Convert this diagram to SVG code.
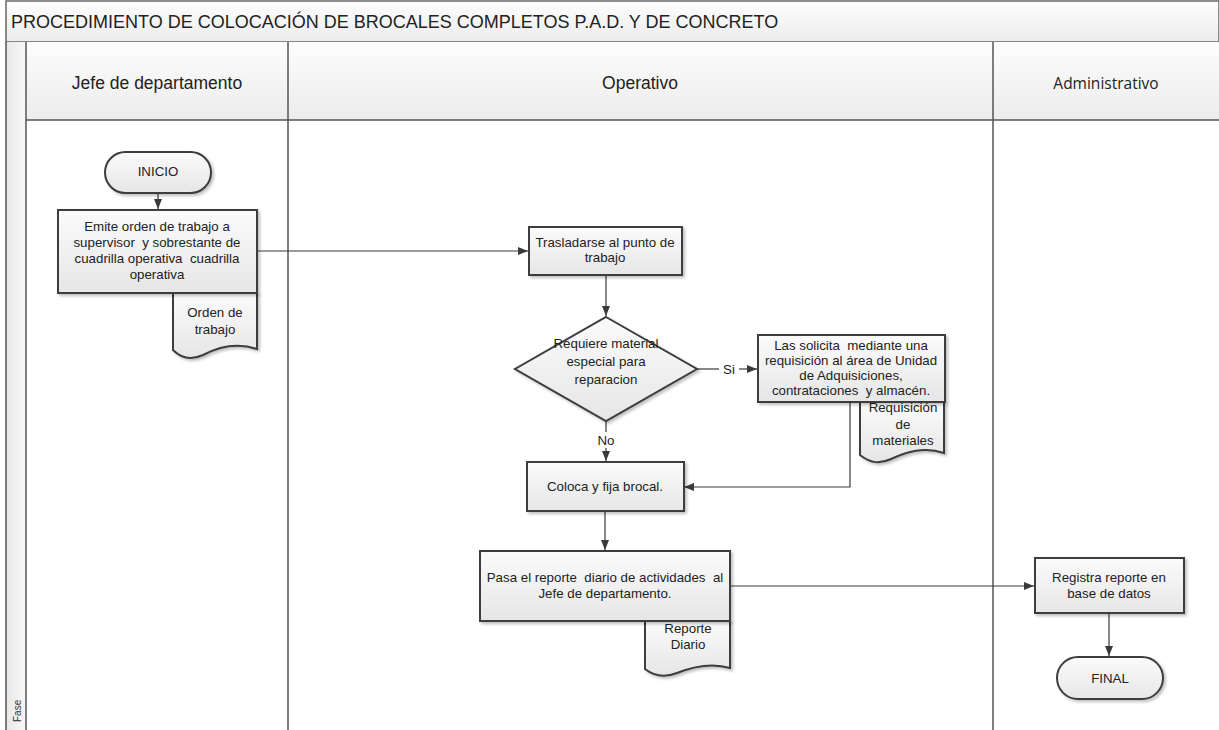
<svg xmlns="http://www.w3.org/2000/svg" width="1219" height="730" viewBox="0 0 1219 730">
<defs>
<linearGradient id="gBox" x1="0" y1="0" x2="0" y2="1"><stop offset="0" stop-color="#fbfbfb"/><stop offset="1" stop-color="#e6e6e6"/></linearGradient>
<linearGradient id="gHead" x1="0" y1="0" x2="0" y2="1"><stop offset="0" stop-color="#fdfdfd"/><stop offset="1" stop-color="#ececec"/></linearGradient>
<linearGradient id="gFase" x1="0" y1="0" x2="1" y2="0"><stop offset="0" stop-color="#e8e8e8"/><stop offset="1" stop-color="#f8f8f8"/></linearGradient>
<filter id="sh" x="-10%" y="-10%" width="125%" height="130%"><feDropShadow dx="2" dy="2" stdDeviation="1.5" flood-color="#000" flood-opacity="0.25"/></filter>
<marker id="ah" viewBox="0 0 10 10" refX="10" refY="5" markerWidth="10" markerHeight="10" markerUnits="userSpaceOnUse" orient="auto"><path d="M0,1 L10,5 L0,9 Z" fill="#3a3a3a"/></marker>
<style>
.box{fill:url(#gBox);stroke:#3c3c3c;stroke-width:2;filter:url(#sh)}
.t{font-family:"Liberation Sans",Arial,sans-serif;font-size:13.3px;fill:#222;text-anchor:middle;white-space:pre}
.hd{font-family:"Liberation Sans",Arial,sans-serif;font-size:17.5px;fill:#222;text-anchor:middle}
.ln{stroke:#555;stroke-width:1.5;fill:none}
.cn{stroke:#3a3a3a;stroke-width:1.2;fill:none}
.ar{stroke:#3a3a3a;stroke-width:1.2;fill:none;marker-end:url(#ah)}
</style>
</defs>
<rect x="0" y="0" width="1219" height="730" fill="#fff"/>
<g id="pool">
<rect x="6" y="1" width="1213" height="41" fill="url(#gHead)" stroke="#666" stroke-width="1.5"/>
<text x="11" y="28" font-family="Liberation Sans,Arial,sans-serif" font-size="18" fill="#222">PROCEDIMIENTO DE COLOCACIÓN DE BROCALES COMPLETOS P.A.D. Y DE CONCRETO</text>
<rect x="6" y="42" width="20" height="690" fill="url(#gFase)"/>
<rect x="26" y="42" width="1193" height="78" fill="url(#gHead)"/>
<line class="ln" x1="6" y1="42" x2="6" y2="730"/>
<line class="ln" x1="26" y1="42" x2="26" y2="730"/>
<line class="ln" x1="288" y1="42" x2="288" y2="730"/>
<line class="ln" x1="993" y1="42" x2="993" y2="730"/>
<line class="ln" x1="26" y1="120" x2="1219" y2="120"/>
<text class="hd" x="157" y="89">Jefe de departamento</text>
<text class="hd" x="640" y="89">Operativo</text>
<text x="1106" y="89" font-family="Open Sans,sans-serif" font-size="15.5" fill="#222" text-anchor="middle">Administrativo</text>
<text transform="translate(21,722) rotate(-90)" font-family="Liberation Sans,Arial,sans-serif" font-size="10" fill="#333">Fase</text>
</g>
<g id="connectors">
<line class="ar" x1="158" y1="193" x2="158" y2="209"/>
<line class="ar" x1="257" y1="251" x2="528" y2="251"/>
<line class="ar" x1="606" y1="275" x2="606" y2="316"/>
<line class="cn" x1="697" y1="369" x2="719" y2="369"/>
<line class="ar" x1="739" y1="369" x2="757" y2="369"/>
<line class="cn" x1="606" y1="421" x2="606" y2="432"/>
<line class="ar" x1="606" y1="448" x2="606" y2="461"/>
<polyline class="ar" points="850,402 850,487 684,487"/>
<line class="ar" x1="605" y1="511" x2="605" y2="550"/>
<line class="ar" x1="730" y1="586" x2="1034" y2="586"/>
<line class="ar" x1="1109" y1="613" x2="1109" y2="656"/>
<text class="t" x="729" y="374">Si</text>
<text class="t" x="606" y="445">No</text>
</g>
<g id="inicio">
<rect class="box" x="105" y="152" width="106" height="41" rx="20.5"/>
<text class="t" x="158" y="176">INICIO</text>
</g>
<g id="orden-doc">
<path class="box" d="M173,293 H257 V349 C236,342 218,347 203,355 C190,361 181,358 173,350 Z"/>
<text class="t" x="215" y="317">Orden de</text>
<text class="t" x="215" y="334">trabajo</text>
</g>
<g id="emite">
<rect class="box" x="58" y="210" width="199" height="83"/>
<text class="t" x="157" y="231">Emite orden de trabajo a</text>
<text class="t" x="157" y="247">supervisor  y sobrestante de</text>
<text class="t" x="157" y="263">cuadrilla operativa  cuadrilla</text>
<text class="t" x="157" y="279">operativa</text>
</g>
<g id="trasladarse">
<rect class="box" x="529" y="227" width="153" height="48"/>
<text class="t" x="605" y="247">Trasladarse al punto de</text>
<text class="t" x="605" y="262">trabajo</text>
</g>
<g id="decision">
<polygon class="box" points="606,317 697,369 606,421 515,369"/>
<text class="t" x="606" y="348" font-size="14">Requiere material</text>
<text class="t" x="606" y="366" font-size="14">especial para</text>
<text class="t" x="606" y="384" font-size="14">reparacion</text>
</g>
<g id="requisicion-doc">
<path class="box" d="M860,402 H944 V453 C924,446 906,452 891,459 C878,465 869,462 860,455 Z"/>
<text class="t" x="903" y="412">Requisición</text>
<text class="t" x="903" y="429">de</text>
<text class="t" x="903" y="445">materiales</text>
</g>
<g id="solicita">
<rect class="box" x="758" y="335" width="187" height="67"/>
<text class="t" x="851" y="350">Las solicita  mediante una</text>
<text class="t" x="851" y="365">requisición al área de Unidad</text>
<text class="t" x="851" y="380">de Adquisiciones,</text>
<text class="t" x="851" y="395">contrataciones  y almacén.</text>
</g>
<g id="coloca">
<rect class="box" x="527" y="462" width="157" height="49"/>
<text class="t" x="605" y="491">Coloca y fija brocal.</text>
</g>
<g id="reporte-doc">
<path class="box" d="M645,621 H730 V668 C710,662 692,667 677,673 C664,678 654,676 645,669 Z"/>
<text class="t" x="688" y="633">Reporte</text>
<text class="t" x="688" y="649">Diario</text>
</g>
<g id="pasa">
<rect class="box" x="480" y="551" width="250" height="70"/>
<text class="t" x="605" y="582">Pasa el reporte  diario de actividades  al</text>
<text class="t" x="605" y="598">Jefe de departamento.</text>
</g>
<g id="registra">
<rect class="box" x="1035" y="558" width="149" height="55"/>
<text class="t" x="1109" y="582">Registra reporte en</text>
<text class="t" x="1109" y="598">base de datos</text>
</g>
<g id="final">
<rect class="box" x="1057" y="657" width="106" height="42" rx="21"/>
<text class="t" x="1110" y="683">FINAL</text>
</g>
</svg>
